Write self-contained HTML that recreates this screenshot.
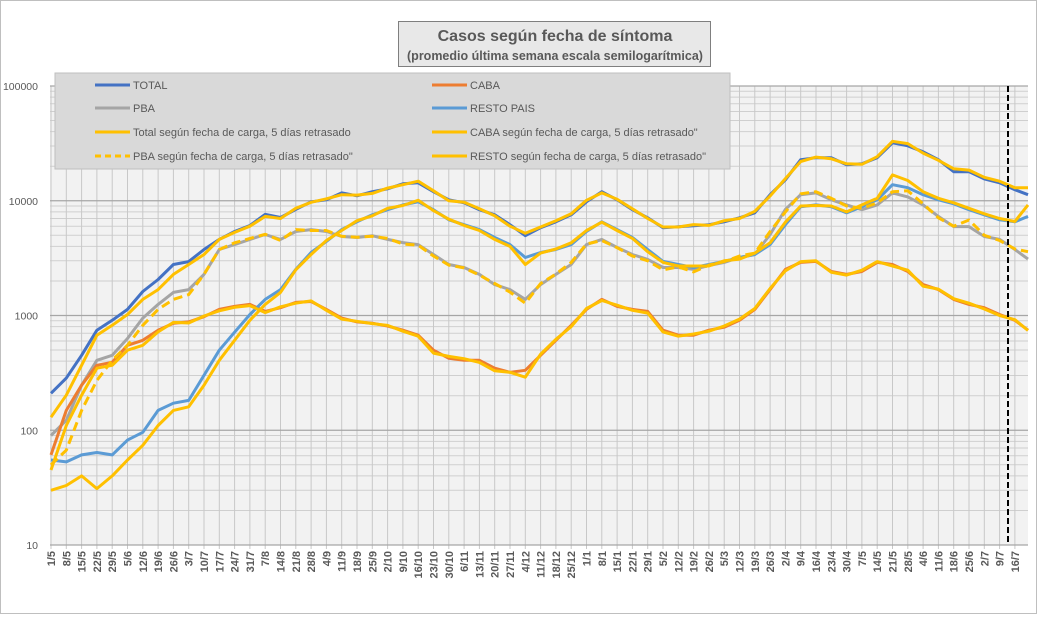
<!DOCTYPE html>
<html><head><meta charset="utf-8">
<style>
html,body{margin:0;padding:0;background:#fff;}
body{width:1037px;height:614px;overflow:hidden;font-family:"Liberation Sans",sans-serif;}
svg text{font-family:"Liberation Sans",sans-serif;}
</style></head>
<body>
<svg id="chart" width="1037" height="614" viewBox="0 0 1037 614" xmlns="http://www.w3.org/2000/svg">
<rect x="0.5" y="0.5" width="1036" height="613" fill="#fff" stroke="#bfbfbf"/>
<rect x="50" y="86" width="978" height="459" fill="#f2f2f2"/>
<g id="grid"></g>
<g id="yticks"></g>
<g id="xticks"></g>
<g id="series"></g>
<line x1="1008" y1="86" x2="1008" y2="545" stroke="#000" stroke-width="2" stroke-dasharray="6,3"/>
<g>
<rect x="55" y="73" width="675" height="96" fill="#d9d9d9" stroke="#bfbfbf"/>
<g id="legend"></g>
</g>
<g>
<rect x="398.5" y="21.5" width="312" height="45" fill="#e8e8e8" stroke="#7f7f7f"/>
<text x="555" y="41" text-anchor="middle" font-size="16" font-weight="bold" fill="#595959">Casos según fecha de síntoma</text>
<text x="555" y="60" text-anchor="middle" font-size="12.5" font-weight="bold" fill="#595959">(promedio última semana escala semilogarítmica)</text>
</g>
</svg>
<script>
const categories = ["1/5","8/5","15/5","22/5","29/5","5/6","12/6","19/6","26/6","3/7","10/7","17/7","24/7","31/7","7/8","14/8","21/8","28/8","4/9","11/9","18/9","25/9","2/10","9/10","16/10","23/10","30/10","6/11","13/11","20/11","27/11","4/12","11/12","18/12","25/12","1/1","8/1","15/1","22/1","29/1","5/2","12/2","19/2","26/2","5/3","12/3","19/3","26/3","2/4","9/4","16/4","23/4","30/4","7/5","14/5","21/5","28/5","4/6","11/6","18/6","25/6","2/7","9/7","16/7"];
const yTicks = [10,100,1000,10000,100000];
const total = [210,285,450,744,909,1130,1620,2060,2780,2950,3760,4600,5400,6080,7600,7150,8400,9800,10200,11700,11050,11980,12700,14060,14350,11980,10200,9600,8350,7550,6180,4960,5820,6560,7550,9800,11980,10200,8350,7100,5820,5940,6060,6180,6560,7100,7850,11280,15240,22800,23700,23700,20600,21000,23700,32000,30150,26700,22800,17900,17900,15500,14350,12470,11280];
const pba = [90,122,247,407,450,630,950,1250,1590,1680,2280,3760,4150,4600,5080,4600,5400,5600,5400,4880,4780,4960,4600,4320,4150,3400,2780,2620,2280,1860,1680,1380,1860,2280,2780,4150,4600,3910,3400,3080,2620,2620,2520,2730,2900,3200,3400,5080,8400,11280,11700,10200,9200,8350,9200,11700,10800,9200,7300,5950,5950,4880,4600,3760,3100];
const caba = [61,149,247,368,391,550,608,744,857,880,977,1130,1200,1250,1085,1170,1300,1325,1130,950,880,857,810,744,673,498,424,407,407,347,320,333,450,608,822,1130,1380,1200,1130,1085,744,673,673,744,790,909,1130,1680,2520,2900,2960,2420,2280,2420,2900,2780,2420,1860,1680,1380,1250,1170,1020,909,744];
const resto = [55,53,61,64,61,82,96,149,172,182,301,498,715,1020,1380,1680,2520,3540,4420,5600,6560,7550,8350,9200,9800,8350,6830,6180,5600,4780,4150,3200,3540,3760,4150,5400,6560,5600,4780,3760,2960,2780,2620,2780,2960,3200,3400,4150,6180,8870,9200,8870,7850,8870,10200,13800,13000,11280,10200,9400,8350,7550,6830,6560,7300];
const totalCarga = [130,202,368,673,822,1020,1380,1680,2280,2780,3400,4600,5300,6000,7300,7000,8600,9700,10400,11300,11200,11600,12900,13800,14800,12200,10000,9700,8500,7400,6000,5200,5900,6700,7700,10100,11700,10300,8500,7000,5900,5900,6200,6100,6700,7000,8100,11000,15600,22000,24000,23200,21000,20800,24200,33000,31500,26000,22500,19000,18500,16000,14800,13000,13000];
const cabaCarga = [45,110,202,347,368,498,550,720,870,860,990,1100,1180,1220,1060,1190,1280,1340,1110,930,890,850,820,730,660,470,440,420,390,330,320,290,460,620,800,1150,1350,1230,1110,1050,720,660,690,730,810,930,1150,1720,2450,2950,3000,2380,2250,2480,2950,2700,2480,1800,1700,1400,1280,1140,1000,920,740];
const pbaCarga = [50,67,149,272,407,550,822,1130,1380,1520,2280,3760,4300,4700,5100,4500,5600,5500,5500,4900,4800,4900,4700,4200,4100,3300,2750,2600,2250,1900,1600,1280,1900,2300,2900,4200,4500,3900,3300,3000,2500,2650,2400,2750,2950,3300,3500,5400,8000,11500,12000,10500,9000,8600,9600,12000,12200,9400,7100,6000,6800,5000,4500,3800,3600];
const restoCarga = [30,33,40,31,40,55,74,110,149,160,247,407,608,909,1250,1590,2500,3400,4500,5500,6700,7400,8600,9100,10100,8200,6900,6100,5500,4600,4000,2780,3500,3800,4300,5500,6500,5500,4700,3600,2900,2700,2700,2700,3000,3100,3500,4300,6500,9000,9100,9000,8000,9200,10500,16800,15000,12000,10500,9600,8600,7700,7000,6600,9200];

const NS = "http://www.w3.org/2000/svg";
const L = 50, R = 1028, T = 86, B = 545;
function xScale(i){ return Math.min(R, 51 + 15.3 * i); }
function yScale(v){ return B - (Math.log10(v) - 1) * 114.75; }

const grid = document.getElementById('grid');
for (let d = 1; d <= 4; d++) {
  for (let m = 2; m <= 9; m++) {
    const y = yScale(m * Math.pow(10, d));
    const ln = document.createElementNS(NS, 'line');
    ln.setAttribute('x1', L); ln.setAttribute('x2', R); ln.setAttribute('y1', y); ln.setAttribute('y2', y);
    ln.setAttribute('stroke', '#cfcfcf'); ln.setAttribute('stroke-width', '1');
    
    
    grid.appendChild(ln);
  }
}
for (let i = 0; i < categories.length; i++) {
  const x = xScale(i);
  const ln = document.createElementNS(NS, 'line');
  ln.setAttribute('x1', x); ln.setAttribute('x2', x); ln.setAttribute('y1', T); ln.setAttribute('y2', B + 4);
  ln.setAttribute('stroke', '#c8c8c8'); ln.setAttribute('stroke-width', '1');
  
  
  grid.appendChild(ln);
}
const yt = document.getElementById('yticks');
yTicks.forEach(v => {
  const y = yScale(v);
  const ln = document.createElementNS(NS, 'line');
  ln.setAttribute('x1', L); ln.setAttribute('x2', R); ln.setAttribute('y1', y); ln.setAttribute('y2', y);
  ln.setAttribute('stroke', '#a6a6a6'); ln.setAttribute('stroke-width', '1.3');
  
  
  grid.appendChild(ln);
  const t = document.createElementNS(NS, 'text');
  t.setAttribute('x', 38); t.setAttribute('y', y + 4); t.setAttribute('text-anchor', 'end');
  t.setAttribute('font-size', '10.5'); t.setAttribute('fill', '#595959');
  t.textContent = v;
  
  
  yt.appendChild(t);
});
const xt = document.getElementById('xticks');
categories.forEach((c, i) => {
  const x = xScale(i) + 4;
  const t = document.createElementNS(NS, 'text');
  t.setAttribute('transform', 'translate(' + x + ',551) rotate(-90)');
  t.setAttribute('text-anchor', 'end');
  t.setAttribute('font-size', '11'); t.setAttribute('font-weight', 'bold'); t.setAttribute('fill', '#595959');
  t.textContent = c;
  
  
  xt.appendChild(t);
});

const seriesG = document.getElementById('series');
function drawLine(vals, color, dash, name) {
  const p = vals.map((v, i) => (i ? 'L' : 'M') + xScale(i).toFixed(1) + ' ' + yScale(v).toFixed(1)).join(' ');
  const path = document.createElementNS(NS, 'path');
  path.setAttribute('d', p); path.setAttribute('fill', 'none');
  path.setAttribute('stroke', color); path.setAttribute('stroke-width', '3');
  path.setAttribute('stroke-linejoin', 'round');
  if (dash) path.setAttribute('stroke-dasharray', dash);
  
  
  seriesG.appendChild(path);
}
drawLine(total, '#4472c4', null, 'total-line');
drawLine(pba, '#a5a5a5', null, 'pba-line');
drawLine(caba, '#ed7d31', null, 'caba-line');
drawLine(resto, '#5b9bd5', null, 'resto-line');
drawLine(totalCarga, '#ffc000', null, 'total-carga-line');
drawLine(cabaCarga, '#ffc000', null, 'caba-carga-line');
drawLine(pbaCarga, '#ffc000', '9,5', 'pba-carga-line');
drawLine(restoCarga, '#ffc000', null, 'resto-carga-line');

const legendItems = [
  ['TOTAL', '#4472c4', null, 95, 85],
  ['PBA', '#a5a5a5', null, 95, 108],
  ['Total según fecha de carga, 5 días retrasado', '#ffc000', null, 95, 132],
  ['PBA según fecha de carga, 5 días retrasado"', '#ffc000', '6,4', 95, 156],
  ['CABA', '#ed7d31', null, 432, 85],
  ['RESTO PAIS', '#5b9bd5', null, 432, 108],
  ['CABA según fecha de carga, 5 días retrasado"', '#ffc000', null, 432, 132],
  ['RESTO según fecha de carga, 5 días retrasado"', '#ffc000', null, 432, 156]
];
const lg = document.getElementById('legend');
legendItems.forEach(it => {
  const g = document.createElementNS(NS, 'g');
  
  
  const ln = document.createElementNS(NS, 'line');
  ln.setAttribute('x1', it[3]); ln.setAttribute('x2', it[3] + 35);
  ln.setAttribute('y1', it[4]); ln.setAttribute('y2', it[4]);
  ln.setAttribute('stroke', it[1]); ln.setAttribute('stroke-width', '3');
  if (it[2]) ln.setAttribute('stroke-dasharray', it[2]);
  
  
  const t = document.createElementNS(NS, 'text');
  t.setAttribute('x', it[3] + 38); t.setAttribute('y', it[4] + 4);
  t.setAttribute('font-size', '11'); t.setAttribute('fill', '#595959');
  t.textContent = it[0];
  
  
  g.appendChild(ln); g.appendChild(t);
  lg.appendChild(g);
});
</script>
</body></html>
